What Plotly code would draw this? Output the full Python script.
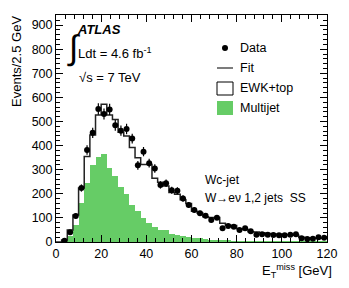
import plotly.graph_objects as go
import numpy as np

bin_width = 2.5
bin_centers = [1.25 + 2.5 * i for i in range(48)]

data_values = [None, 5, 40, 108, 224, 382, 453, 552, 531, 550,
               484, 462, 469, 429, 318, 375, 327, 305, 237, 244,
               215, 213, 181, 154, 133, 119, 109, 91, 101, 57,
               66, 63, 50, 57, 45, 30, 32, 30, 29, 28,
               28, 30, 32, 16, 12, 13, 20, 18]

fit_values = [0, 8, 50, 112, 224, 355, 444, 527, 572, 527,
              508, 455, 440, 392, 350, 322, 322, 265, 248, 232,
              205, 198, 175, 160, 128, 120, 105, 102, 102, 78,
              70, 68, 55, 52, 43, 42, 38, 35, 33, 33,
              30, 30, 28, 20, 18, 17, 16, 16]

multijet_values = [0, 3, 25, 70, 160, 245, 318, 353, 366, 308,
                   272, 229, 200, 155, 128, 98, 80, 64, 48, 50,
                   33, 30, 25, 22, 18, 15, 12, 10, 8, 6,
                   5, 4, 3, 3, 2, 2, 2, 1, 1, 1,
                   1, 1, 1, 1, 1, 1, 1, 1]

x_tick_labels = ["0", "20", "40", "60", "80", "100", "120"]
y_tick_labels = ["0", "100", "200", "300", "400", "500", "600", "700", "800", "900"]
legend_labels = ["Data", "Fit", "EWK+top", "Multijet"]

GREEN = "rgb(102,204,102)"
FONT = "Liberation Sans, Arial, sans-serif"

fig = go.Figure()

fig.add_trace(go.Bar(x=bin_centers, y=multijet_values, width=bin_width,
                     marker=dict(color=GREEN, line=dict(width=0)),
                     name="Multijet", showlegend=False))

edges = [c - bin_width / 2 for c in bin_centers] + [bin_centers[-1] + bin_width / 2]
fit_step = fit_values + [fit_values[-1]]
fig.add_trace(go.Scatter(x=edges, y=fit_step, mode="lines",
                         line=dict(color="#222222", width=1.5, shape="hv"),
                         name="Fit", showlegend=False))

errs = [None if v is None else np.sqrt(v) for v in data_values]
fig.add_trace(go.Scatter(x=bin_centers, y=data_values, mode="markers",
                         marker=dict(color="black", size=6),
                         error_y=dict(type="data", array=errs, visible=True,
                                      color="black", thickness=1.2, width=0),
                         name="Data", showlegend=False))

L, R, T, B = 56, 22, 15, 46
W, H = 349, 288
pw, ph = W - L - R, H - T - B

def px(xp):
    return (xp - L) / pw

def py(yp):
    return (H - B - yp) / ph

axis_common = dict(ticks="inside", ticklen=7, tickwidth=1, tickcolor="black",
                   showline=True, linecolor="black", linewidth=1, mirror="allticks",
                   showgrid=False, zeroline=False, tickfont=dict(size=12.5),
                   automargin=False)

fig.update_layout(
    width=W, height=H,
    margin=dict(l=L, r=R, t=T, b=B, autoexpand=False),
    paper_bgcolor="white", plot_bgcolor="white",
    bargap=0, barmode="overlay",
    font=dict(family=FONT, size=12.5, color="black"),
    showlegend=False,
    xaxis=dict(range=[0, 120], tickvals=[0, 20, 40, 60, 80, 100, 120], ticktext=x_tick_labels,
               minor=dict(dtick=4, ticks="inside", ticklen=4, tickcolor="black", tickwidth=1),
               **axis_common),
    yaxis=dict(range=[0, 942], tickvals=[0, 100, 200, 300, 400, 500, 600, 700, 800, 900],
               ticktext=y_tick_labels,
               minor=dict(dtick=20, ticks="inside", ticklen=4, tickcolor="black", tickwidth=1),
               **axis_common),
)

ann = []
def add_text(text, xp, yp, size=12.5, xanchor="left", yanchor="middle", angle=0):
    ann.append(dict(text=text, x=px(xp), y=py(yp), xref="paper", yref="paper",
                    xanchor=xanchor, yanchor=yanchor, showarrow=False, textangle=angle,
                    font=dict(family=FONT, size=size, color="black")))

add_text("<b><i>ATLAS</i></b>", 75, 30, size=13)
add_text("∫", 65, 47, size=34)
add_text("Ldt = 4.6 fb<sup>-1</sup>", 76, 53, size=13)
add_text("√s = 7 TeV", 77, 77, size=13)
add_text("Wc-jet", 203, 180, size=12)
add_text("W→eν 1,2 jets  SS", 203, 198, size=12)
add_text("Events/2.5 GeV", 16, 62, size=13, xanchor="center", angle=-90)
add_text("E<sub>T</sub><sup>miss</sup> [GeV]", 334, 271, size=13, xanchor="right")

leg_y = [48, 68, 88, 108]
for lab, yy in zip(legend_labels, leg_y):
    add_text(lab, 238, yy, size=12.5)

shapes = []
def pshape(**kw):
    kw.update(xref="paper", yref="paper")
    shapes.append(kw)

pshape(type="circle", x0=px(222), x1=px(228), y0=py(51), y1=py(45),
       fillcolor="black", line=dict(color="black", width=0))
pshape(type="line", x0=px(217), x1=px(233), y0=py(68), y1=py(68),
       line=dict(color="#444444", width=1.4))
pshape(type="rect", x0=px(217), x1=px(233), y0=py(95), y1=py(82),
       fillcolor="white", line=dict(color="black", width=1))
pshape(type="rect", x0=px(217), x1=px(233), y0=py(115), y1=py(101),
       fillcolor=GREEN, line=dict(color=GREEN, width=0))

fig.update_layout(annotations=ann, shapes=shapes)

fig.write_html("out.html", config={"displayModeBar": False},
               post_script="document.body.style.margin='0';document.body.style.padding='0';")
